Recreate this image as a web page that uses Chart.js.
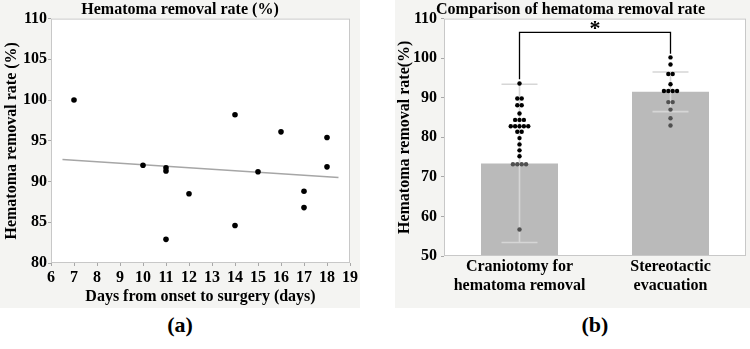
<!DOCTYPE html>
<html>
<head>
<meta charset="utf-8">
<script src="https://cdn.jsdelivr.net/npm/chart.js@4"></script>
<style>
body { margin: 0; width: 750px; height: 349px; background: #fff; position: relative; overflow: hidden; }
.panel { position: absolute; top: 0; height: 308px; background: #f4f4f2; }
#panelA { left: 0; width: 360px; }
#panelB { left: 395px; width: 355px; }
.caption { position: absolute; top: 312px; width: 60px; text-align: center; font: bold 22px 'Liberation Serif', serif; color: #000; }
</style>
</head>
<body>
<div class="panel" id="panelA"><canvas id="chartA" width="360" height="308"></canvas></div>
<div class="panel" id="panelB"><canvas id="chartB" width="355" height="308"></canvas></div>
<div class="caption" style="left:150px">(a)</div>
<div class="caption" style="left:565px">(b)</div>
<script>
// (a) 수술까지 걸린 일수와 혈종 제거율
const daysToSurgery = [7, 10, 11, 11, 11, 12, 14, 14, 15, 16, 17, 17, 18, 18];
const removalRateA = [100, 92.0, 91.7, 91.3, 82.9, 88.5, 98.2, 84.6, 91.2, 96.1, 88.8, 86.8, 95.4, 91.8];
const trendDays = [6.5, 18.5];
const trendRate = [92.7, 90.5];

// (b) 두 수술법 비교
const groupLabels = [["Craniotomy for", "hematoma removal"], ["Stereotactic", "evacuation"]];
const groupMeans = [73.4, 91.5];
const groupSD = [20.0, 5.0];
const craniotomyRates = [93.6, 89.8, 89.8, 88.1, 88.1, 86.0, 84.4, 84.4, 84.4,
    82.8, 82.8, 82.8, 82.8, 82.8, 81.4, 81.4, 79.8, 78.2, 76.7, 75.2,
    73.2, 73.2, 73.2, 73.2, 56.7];
const stereotacticRates = [100.2, 98.4, 96.0, 96.0, 93.4, 91.7, 91.7, 91.7, 91.7,
    88.9, 88.9, 87.0, 84.8, 83.0];
const sigBracket = { left: 94.7, top: 106.5, right: 101.1, star: 108.2 };

const SERIF = "'Liberation Serif', 'Times New Roman', serif";
const bold = (size, lh) => ({ family: SERIF, size: size, weight: "bold", lineHeight: lh || 1.2 });
// 축 바깥쪽 짧은 눈금만 표시
const tickMarks = { display: true, drawOnChartArea: false, drawTicks: true, tickLength: 3, color: "#a8a8a8" };

// 플롯 영역 흰 배경과 회색 테두리
const framePlugin = {
    id: "frame",
    beforeDraw(chart) {
        const a = chart.chartArea;
        chart.ctx.save();
        chart.ctx.fillStyle = "#ffffff";
        chart.ctx.fillRect(a.left, a.top, a.right - a.left, a.bottom - a.top);
        chart.ctx.restore();
    },
    afterDraw(chart) {
        const a = chart.chartArea;
        chart.ctx.save();
        chart.ctx.strokeStyle = "#c8c8c8";
        chart.ctx.lineWidth = 1;
        chart.ctx.strokeRect(a.left + 0.5, a.top + 0.5, a.right - a.left - 1, a.bottom - a.top - 1);
        chart.ctx.restore();
    }
};

new Chart(document.getElementById("chartA"), {
    type: "scatter",
    data: {
        datasets: [
            {
                data: daysToSurgery.map((d, i) => ({ x: d, y: removalRateA[i] })),
                backgroundColor: "#000",
                borderWidth: 0,
                pointRadius: 2.8,
                order: 0
            },
            {
                type: "line",
                data: trendDays.map((d, i) => ({ x: d, y: trendRate[i] })),
                borderColor: "#a6a6a6",
                borderWidth: 1.5,
                pointRadius: 0,
                order: 1
            }
        ]
    },
    options: {
        responsive: false,
        animation: false,
        plugins: {
            legend: { display: false },
            tooltip: { enabled: false },
            title: {
                display: true,
                text: "Hematoma removal rate (%)",
                color: "#000",
                font: bold(16, 1.1),
                padding: { top: 1, bottom: 0 }
            }
        },
        scales: {
            x: {
                type: "linear",
                min: 6,
                max: 19,
                grid: tickMarks,
                border: { display: false },
                ticks: { stepSize: 1, color: "#000", font: bold(16), padding: 2 },
                title: { display: true, text: "Days from onset to surgery (days)", color: "#000", font: bold(16), padding: { top: 0, bottom: 2 } },
                afterFit: (s) => { s.height = 45; }
            },
            y: {
                min: 80,
                max: 110,
                grid: tickMarks,
                border: { display: false },
                ticks: { stepSize: 5, color: "#000", font: bold(16), padding: 1 },
                title: { display: true, text: "Hematoma removal rate (%)", color: "#000", font: bold(16), padding: { top: 2, bottom: 0 } },
                afterFit: (s) => { s.width = 51; }
            }
        }
    },
    plugins: [framePlugin]
});

// 같은 값끼리 가로로 나란히 펼치는 도트 위치 계산
function swarm(values, center) {
    const counts = {};
    values.forEach(v => { counts[v] = (counts[v] || 0) + 1; });
    const seen = {};
    return values.map(v => {
        const k = seen[v] = (seen[v] || 0) + 1;
        const off = (k - 1 - (counts[v] - 1) / 2) * 0.029;
        return { x: center + off, y: v };
    });
}

// 막대 위에 에러바(평균 ± SD), 마지막에 유의성 별표
const errorBarPlugin = {
    id: "errorBars",
    afterDatasetDraw(chart, args) {
        if (chart.data.datasets[args.index].type !== "bar") return;
        const ctx = chart.ctx;
        const xs = chart.scales.x, ys = chart.scales.y;
        ctx.save();
        ctx.strokeStyle = "#d6d6d6";
        ctx.lineWidth = 1.6;
        groupMeans.forEach((m, i) => {
            const x = xs.getPixelForValue(i);
            const top = ys.getPixelForValue(m + groupSD[i]);
            const bot = ys.getPixelForValue(m - groupSD[i]);
            ctx.beginPath();
            ctx.moveTo(x, top); ctx.lineTo(x, bot);
            ctx.moveTo(x - 18, top); ctx.lineTo(x + 18, top);
            ctx.moveTo(x - 18, bot); ctx.lineTo(x + 18, bot);
            ctx.stroke();
        });
        ctx.restore();
    },
    afterDatasetsDraw(chart) {
        const ctx = chart.ctx;
        const xs = chart.scales.x, ys = chart.scales.y;
        ctx.save();
        ctx.fillStyle = "#000";
        ctx.font = "bold 22px " + SERIF;
        ctx.textAlign = "center";
        ctx.textBaseline = "middle";
        ctx.fillText("*", xs.getPixelForValue(0.5), ys.getPixelForValue(sigBracket.star) + 4);
        ctx.restore();
    }
};

new Chart(document.getElementById("chartB"), {
    type: "bar",
    data: {
        datasets: [
            {
                type: "line",
                data: [
                    { x: 0, y: sigBracket.left },
                    { x: 0, y: sigBracket.top },
                    { x: 1, y: sigBracket.top },
                    { x: 1, y: sigBracket.right }
                ],
                borderColor: "#000",
                borderWidth: 1.3,
                pointRadius: 0,
                clip: false,
                order: 0
            },
            {
                type: "scatter",
                data: swarm(craniotomyRates, 0).concat(swarm(stereotacticRates, 1)),
                // 막대 안쪽 점은 진회색
                backgroundColor: (c) => c.raw && c.raw.y < groupMeans[Math.round(c.raw.x)] ? "#505050" : "#000",
                borderWidth: 0,
                pointRadius: 2.2,
                order: 1
            },
            {
                type: "bar",
                data: groupMeans.map((m, i) => ({ x: i, y: m })),
                backgroundColor: "#bababa",
                borderWidth: 0,
                barPercentage: 0.51,
                categoryPercentage: 1,
                order: 2
            }
        ]
    },
    options: {
        responsive: false,
        animation: false,
        layout: { padding: { right: 4 } },
        plugins: {
            legend: { display: false },
            tooltip: { enabled: false },
            title: {
                display: true,
                text: "Comparison of hematoma removal rate",
                color: "#000",
                font: bold(16, 1.1),
                padding: { top: 1, bottom: 0 }
            }
        },
        scales: {
            x: {
                type: "linear",
                min: -0.5,
                max: 1.5,
                offset: false,
                grid: { display: false, drawTicks: false },
                border: { display: false },
                afterBuildTicks: (s) => { s.ticks = groupLabels.map((l, i) => ({ value: i })); },
                ticks: {
                    color: "#000",
                    font: bold(16, 1.15),
                    padding: 2,
                    maxRotation: 0,
                    autoSkip: false,
                    callback: (v) => groupLabels[v]
                },
                afterFit: (s) => { s.height = 52; }
            },
            y: {
                min: 50,
                max: 110,
                grid: tickMarks,
                border: { display: false },
                // 5 단위 눈금, 라벨은 10 단위만
                ticks: { stepSize: 5, color: "#000", font: bold(16), padding: 4, callback: (v) => v % 10 === 0 ? v : "" },
                title: { display: true, text: "Hematoma removal rate(%)", color: "#000", font: bold(16), padding: { top: 0, bottom: 0 } },
                afterFit: (s) => { s.width = 49; }
            }
        }
    },
    plugins: [framePlugin, errorBarPlugin]
});
</script>
</body>
</html>
